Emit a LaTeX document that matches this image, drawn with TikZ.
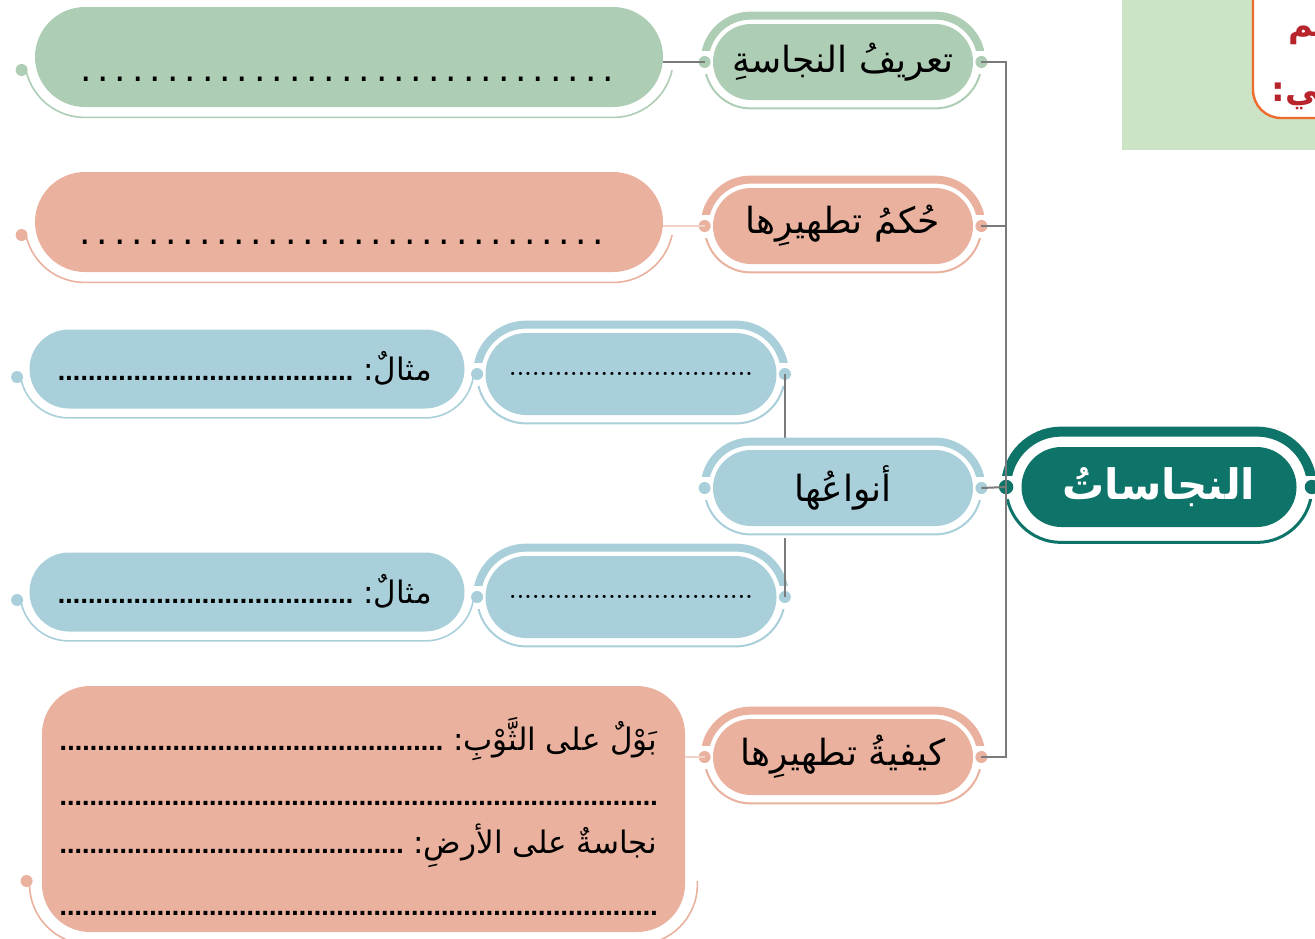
\documentclass[tikz,border=0pt]{standalone}
\usepackage{fontspec}
\usepackage{xcolor}
\usepackage{tikz}
\usetikzlibrary{calc}
\newfontfamily\arabicfont[Script=Arabic]{DejaVu Sans}
\TeXXeTstate=1
\definecolor{leafgreen}{HTML}{AECDB5}
\definecolor{salmon}{HTML}{E9B19E}
\definecolor{skyblue}{HTML}{A8CFDA}
\definecolor{darkteal}{HTML}{0E7369}
\definecolor{linegray}{HTML}{7A7A7A}
\definecolor{softsalmon}{HTML}{F2D2C6}
\definecolor{panelgreen}{HTML}{CDE3C5}
\definecolor{noteorange}{HTML}{EE6B2D}
\definecolor{notered}{HTML}{B8242B}

% dotted blanks
\newcommand\bigdots[1]{\hbox to #1{\arabicfont\fontsize{18}{18}\selectfont\xleaders\hbox to 8.5pt{\hss.\hss}\hfill}}
\newcommand\finedots{\xleaders\hbox to 3.7pt{\hss\bfseries\fontsize{11}{11}\selectfont.\hss}\hfill}

% outer ring of a topic: thick arc on top, thin arc below, a dot at each side
\newcommand\ringdeco[7]{%
  \begin{scope}
    \clip ($(#1.west)+(-40,12)$) rectangle ($(#1.north east)+(40,40)$);
    \draw[#2, line width=#5, rounded corners=#4]
      ($(#1.south west)+(-#3,-#3)$) rectangle ($(#1.north east)+(#3,#3)$);
  \end{scope}
  \begin{scope}
    \clip ($(#1.west)+(-40,-12)$) rectangle ($(#1.south east)+(40,-40)$);
    \draw[#2, line width=#6, rounded corners=#4]
      ($(#1.south west)+(-#3,-#3)$) rectangle ($(#1.north east)+(#3,#3)$);
  \end{scope}
  \coordinate (#1-l) at ($(#1.west)+(-#3,0)$);
  \coordinate (#1-r) at ($(#1.east)+(#3,0)$);
  \fill[#2] (#1-l) circle (#7) (#1-r) circle (#7);
}

% thin tail under an answer box
\newcommand\tailring[5]{%
  \begin{scope}
    \clip ($(#1.west)+(-40,-#5)$) rectangle ($(#1.south east)+(40,-40)$);
    \draw[#2, line width=0.8pt, rounded corners=#4]
      ($(#1.south west)+(-#3,-#3)$) rectangle ($(#1.north east)+(#3,#3)$);
  \end{scope}
  \fill[#2] ($(#1.west)+(-#3-3,-#5)$) circle (3pt);
}

\tikzset{
  topicbox/.style={rounded corners=19pt, minimum width=130pt, minimum height=38pt, inner sep=0pt,
    preaction={draw=white, line width=12pt}, font=\arabicfont\fontsize{18}{20}\selectfont},
  blankbox/.style={rounded corners=20.5pt, minimum width=145.5pt, minimum height=41pt, inner sep=0pt,
    preaction={draw=white, line width=12pt}},
  answerbox/.style={rounded corners=25pt, minimum width=314pt, minimum height=50pt, inner sep=0pt},
  samplebox/.style={rounded corners=19.75pt, minimum width=217.5pt, minimum height=39.5pt, inner sep=0pt},
  boxtext/.style={font=\arabicfont\fontsize{15.5}{18}\selectfont, inner sep=0pt, anchor=base east},
  notetext/.style={font=\arabicfont\bfseries\fontsize{17}{20}\selectfont, text=notered, inner sep=0pt, anchor=base west},
  conn/.style={draw=linegray, line width=1pt},
  softlink/.style={draw=softsalmon, line width=0.6pt}
}

\begin{document}
\begin{tikzpicture}[x=0.5pt, y=0.5pt]

        \useasboundingbox (0,0) rectangle (1315,-938);
        \clip (0,0) rectangle (1315,-938);

        % Note panel (cut off at the corner)
        \fill[panelgreen] (1122,0) rectangle (1315,-150);
        \filldraw[fill=white, draw=noteorange, line width=1.2pt, rounded corners=14pt] (1253,40) rectangle (1380,-118);
        \node (note1) [notetext] at (1288,-36) {\beginR للمعلِّم\endR};
        \node (note2) [notetext] at (1271,-101) {\beginR يأتي:\endR};

        % Main node
        \node (main) [rounded corners=20pt, minimum width=137.5pt, minimum height=40pt, inner sep=0pt, fill=darkteal, text=white,
          font=\arabicfont\bfseries\fontsize{21}{24}\selectfont] at (1159,-487) {\beginR النجاساتُ\endR};
        \ringdeco{main}{darkteal}{15}{27.5pt}{5pt}{1.5pt}{3.6pt}

        % Topics
        \node (defn) [topicbox, fill=leafgreen] at (843,-62) {\beginR تعريفُ النجاسةِ\endR};
        \ringdeco{defn}{leafgreen}{8}{23pt}{4pt}{1pt}{3pt}
        \node (rule) [topicbox, fill=salmon] at (843,-226) {\beginR حُكمُ تطهيرِها\endR};
        \ringdeco{rule}{salmon}{8}{23pt}{4pt}{1pt}{3pt}

        \node (kind1) [blankbox, fill=skyblue] at (631,-374) {\hbox to 122pt{\finedots}};
        \ringdeco{kind1}{skyblue}{8}{24.5pt}{4pt}{1pt}{3pt}
        \node (kind2) [blankbox, fill=skyblue] at (631,-597) {\hbox to 122pt{\finedots}};
        \ringdeco{kind2}{skyblue}{8}{24.5pt}{4pt}{1pt}{3pt}
        \draw[conn] (kind1-r) -- (kind2-r);

        \node (kinds) [topicbox, fill=skyblue] at (843,-488) {\beginR أنواعُها\endR};
        \ringdeco{kinds}{skyblue}{8}{23pt}{4pt}{1pt}{3pt}
        \node (how) [topicbox, fill=salmon] at (843,-757) {\beginR كيفيةُ تطهيرِها\endR};
        \ringdeco{how}{salmon}{8}{23pt}{4pt}{1pt}{3pt}

        % Answer boxes
        \node (defbox) [answerbox, fill=leafgreen] at (349,-57) {};
        \tailring{defbox}{leafgreen}{10}{30pt}{13}
        \node (defdots) [inner sep=0pt] at (347,-79) {\bigdots{270pt}};

        \node (rulebox) [answerbox, fill=salmon] at (349,-222) {};
        \tailring{rulebox}{salmon}{10}{30pt}{13}
        \node (ruledots) [inner sep=0pt] at (342,-242) {\bigdots{265pt}};

        \node (ex1) [samplebox, fill=skyblue] at (247,-369) {};
        \tailring{ex1}{skyblue}{9}{24.25pt}{8}
        \node (ex1txt) [boxtext] at (432,-380) {\hbox to 187pt{\beginR مثالٌ:\ \finedots\endR}};
        \node (ex2) [samplebox, fill=skyblue] at (247,-592) {};
        \tailring{ex2}{skyblue}{9}{24.25pt}{8}
        \node (ex2txt) [boxtext] at (432,-603) {\hbox to 187pt{\beginR مثالٌ:\ \finedots\endR}};

        \node (howbox) [fill=salmon, rounded corners=24pt, minimum width=321.5pt, minimum height=123pt, inner sep=0pt] at (363.5,-809) {};
        \tailring{howbox}{salmon}{12}{30pt}{72}
        \node (howline1) [boxtext] at (658,-750) {\hbox to 299pt{\beginR بَوْلٌ على الثَّوْبِ:\ \finedots\endR}};
        \node (howline2) [boxtext] at (658,-805) {\hbox to 299pt{\finedots}};
        \node (howline3) [boxtext] at (658,-853) {\hbox to 299pt{\beginR نجاسةٌ على الأرضِ:\ \finedots\endR}};
        \node (howline4) [boxtext] at (658,-915) {\hbox to 299pt{\finedots}};

        % Links
        \draw[conn] (defbox.east |- defn-l) -- (defn-l);
        \draw[softlink] (rulebox.east |- rule-l) -- (rule-l);
        \draw[softlink] (howbox.east |- how-l) -- (how-l);
        \draw[conn] (defn-r) -| (main-l);
        \draw[conn] (how-r) -| (main-l);
        \draw[conn] (rule-r) -- (rule-r -| main-l);
        \draw[conn] (kinds-r) -- (main-l);

\end{tikzpicture}
\end{document}
